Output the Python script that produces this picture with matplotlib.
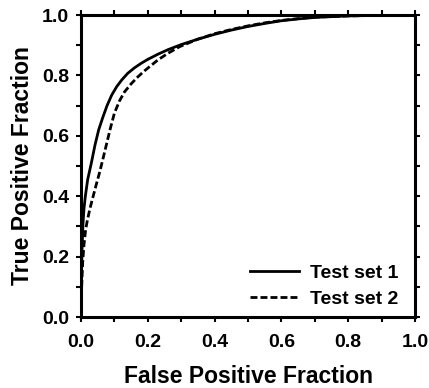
import matplotlib
matplotlib.use("Agg")
import matplotlib.pyplot as plt
from matplotlib.ticker import MultipleLocator

plt.rcParams['font.family'] = ['Liberation Sans', 'DejaVu Sans']
plt.rcParams['font.weight'] = 'bold'

fpr1 = [0, 0.001, 0.003, 0.006, 0.009, 0.013, 0.02, 0.031, 0.042, 0.053, 0.065, 0.078, 0.092, 0.107,
        0.122, 0.14, 0.16, 0.18, 0.20, 0.23, 0.26, 0.30, 0.35, 0.40, 0.45, 0.50, 0.55, 0.60, 0.65,
        0.70, 0.80, 0.90, 1.0]
tpr1 = [0, 0.12, 0.22, 0.31, 0.36, 0.40, 0.455, 0.51, 0.57, 0.62, 0.66, 0.70, 0.735, 0.763,
        0.785, 0.807, 0.825, 0.84, 0.853, 0.87, 0.885, 0.902, 0.92, 0.936, 0.95, 0.962, 0.972, 0.981, 0.987,
        0.992, 0.997, 0.999, 1.0]

fpr2 = [0, 0.002, 0.005, 0.009, 0.014, 0.019, 0.027, 0.036, 0.046, 0.056, 0.066, 0.077, 0.088, 0.1,
        0.115, 0.13, 0.15, 0.17, 0.19, 0.21, 0.23, 0.26, 0.295, 0.35, 0.40, 0.45, 0.50, 0.55, 0.60,
        0.65, 0.70, 0.80, 0.90, 1.0]
tpr2 = [0, 0.10, 0.18, 0.24, 0.29, 0.32, 0.36, 0.398, 0.44, 0.48, 0.525, 0.575, 0.625, 0.675,
        0.715, 0.745, 0.772, 0.795, 0.815, 0.833, 0.851, 0.873, 0.895, 0.92, 0.938, 0.952, 0.964, 0.974, 0.982,
        0.988, 0.993, 0.997, 0.999, 1.0]

labels = ["Test set 1", "Test set 2"]
ticks = [0.0, 0.2, 0.4, 0.6, 0.8, 1.0]

fig = plt.figure(figsize=(4.29, 3.88), dpi=100)
ax = fig.add_axes([81/429, 1 - 317/388, 334/429, 302/388])

ax.plot(fpr1, tpr1, color='black', lw=2.0, label=labels[0])
l2, = ax.plot(fpr2, tpr2, color='black', lw=2.0, label=labels[1])
l2.set_dashes((2.5, 1.1))

ax.set_xlim(0, 1)
ax.set_ylim(0, 1)
ax.set_xticks(ticks)
ax.set_yticks(ticks)
ax.set_xticklabels([f"{t:.1f}" for t in ticks])
ax.set_yticklabels([f"{t:.1f}" for t in ticks])
ax.xaxis.set_minor_locator(MultipleLocator(0.1))
ax.yaxis.set_minor_locator(MultipleLocator(0.1))

for s in ax.spines.values():
    s.set_linewidth(2.2)

ax.tick_params(which='both', direction='out', length=3.5, width=1.5,
               top=True, right=True, labelsize=14)
ax.tick_params(axis='x', pad=9)
ax.tick_params(axis='y', pad=5)

ax.set_xlabel("False Positive Fraction", fontsize=16.5, fontweight='bold', labelpad=10)
ax.set_ylabel("True Positive Fraction", fontsize=16.5, fontweight='bold', labelpad=6)

leg = ax.legend(loc='lower right', frameon=False, fontsize=14, handlelength=2.5,
                handletextpad=0.55, labelspacing=0.42, borderaxespad=0.3,
                bbox_to_anchor=(0.99, -0.015))

fig.savefig("out.png", dpi=100)
